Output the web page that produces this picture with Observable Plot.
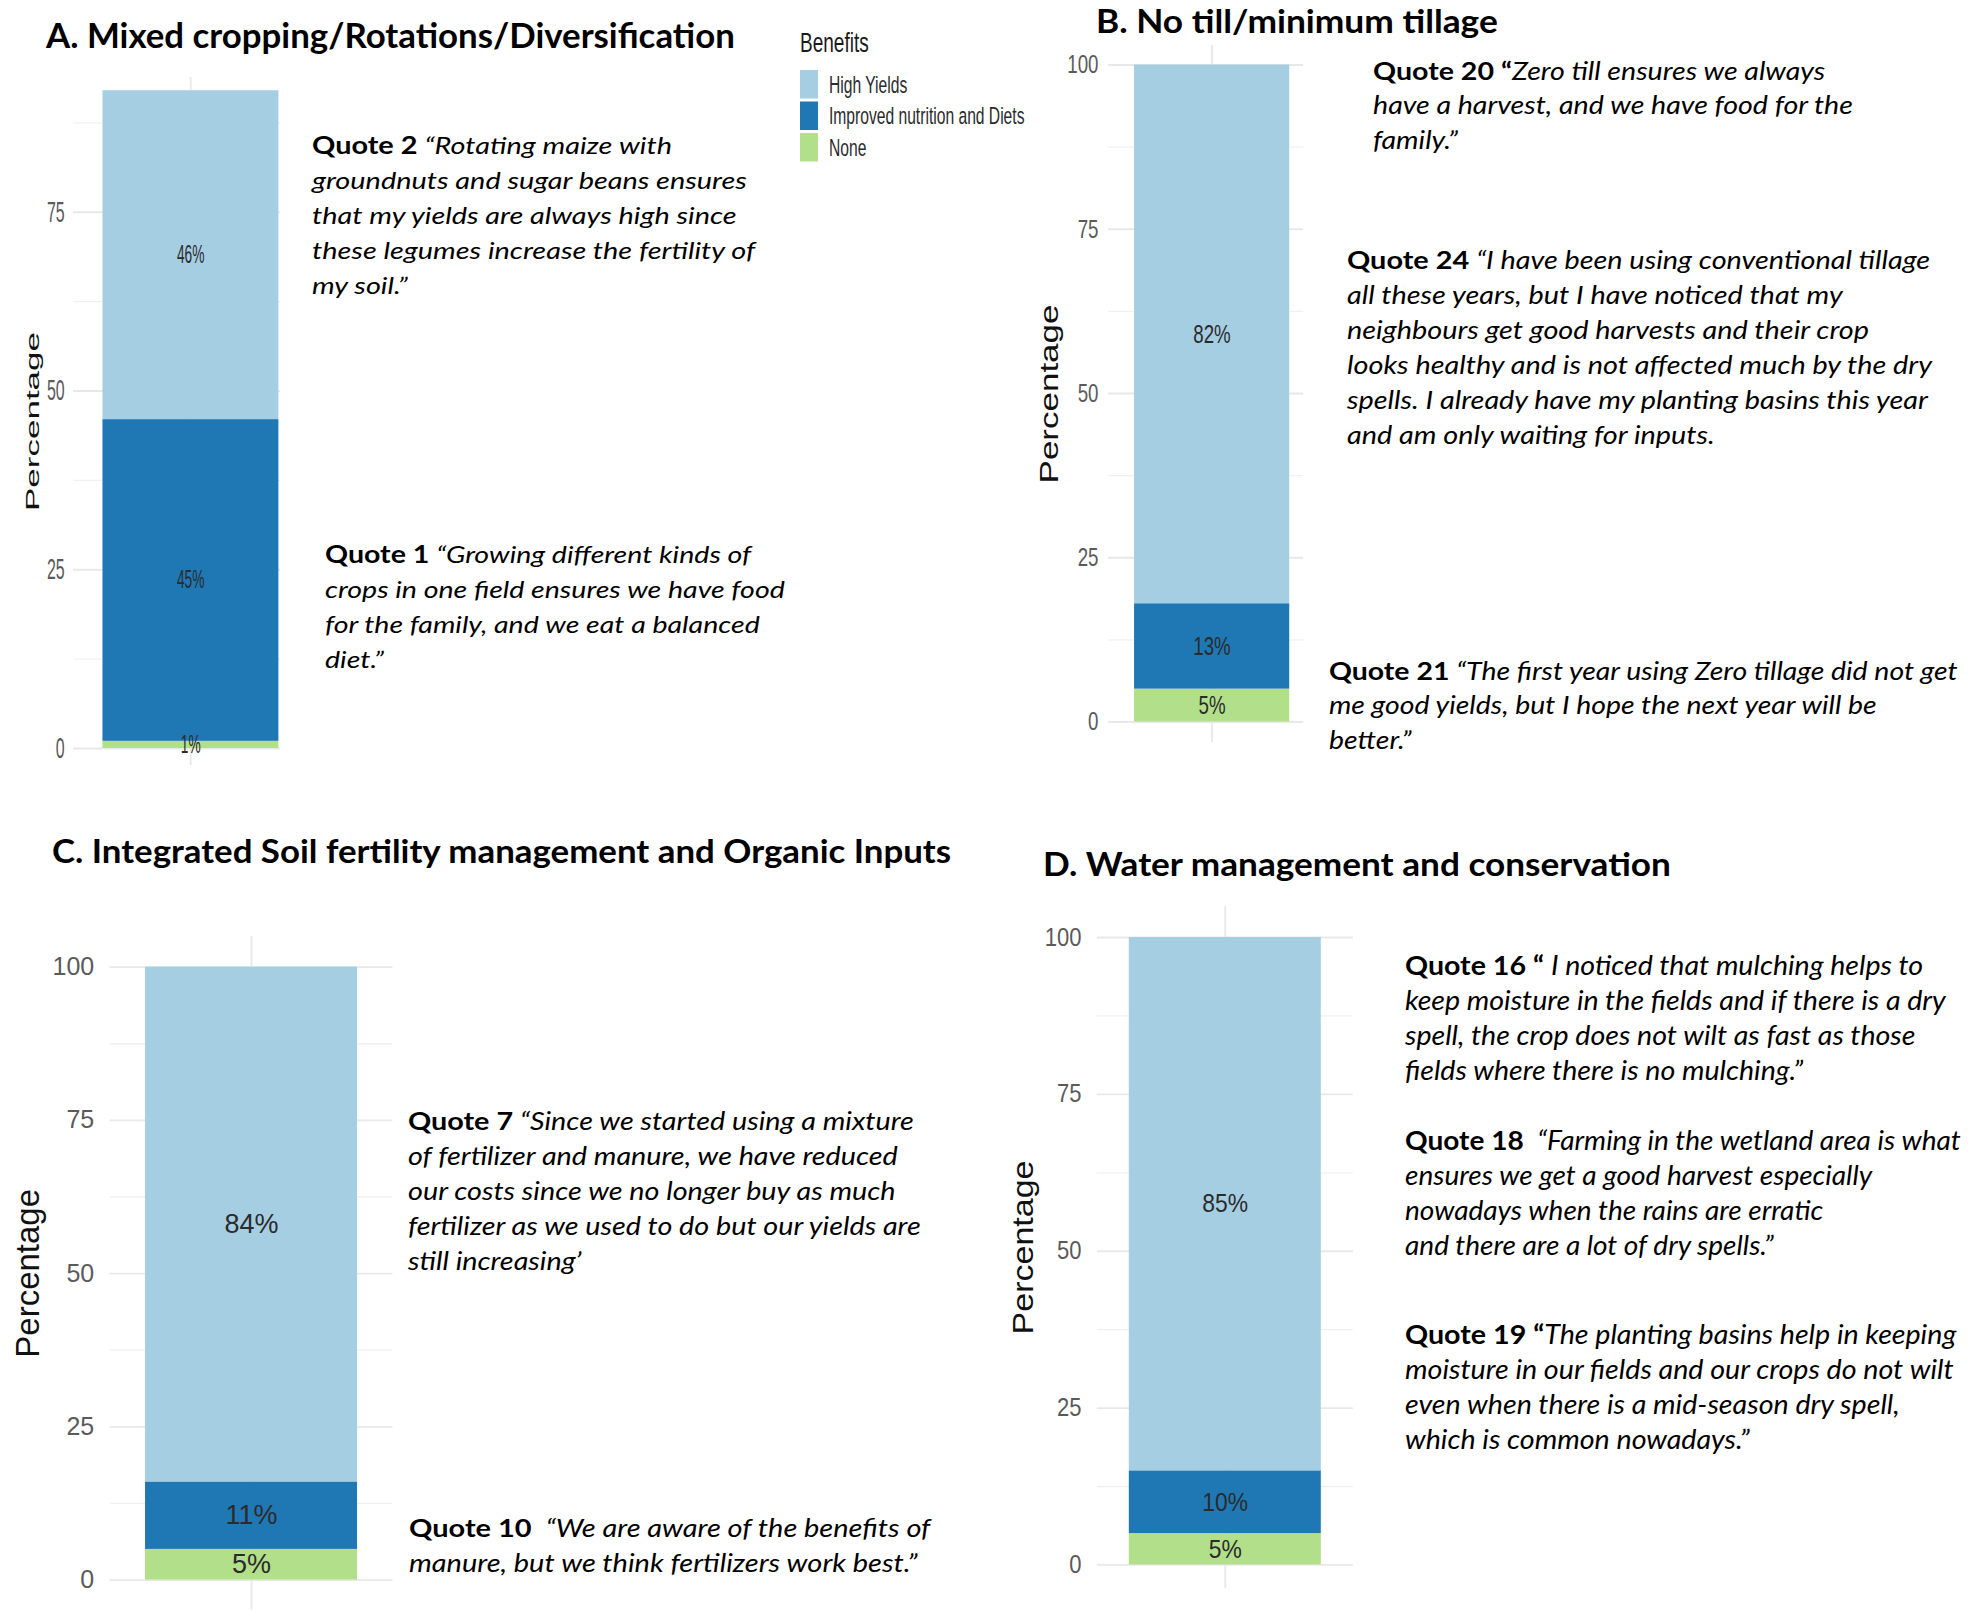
<!DOCTYPE html>
<html><head><meta charset="utf-8">
<script src="https://cdn.jsdelivr.net/npm/d3@7"></script>
<script src="https://cdn.jsdelivr.net/npm/@observablehq/plot@0.6"></script>
<style>
html,body{margin:0;padding:0;background:#fff;}
#page{position:relative;width:1971px;height:1610px;overflow:hidden;background:#fff;}
.panel{position:absolute;transform-origin:0 0;}
#overlay{position:absolute;left:0;top:0;}
</style></head><body><div id="page"></div>
<script>
// ---------- data ----------
const benefits = ["High Yields", "Improved nutrition and Diets", "None"];
const benefitColors = ["#A6CEE3", "#1F78B4", "#B2DF8A"];
const valuesA = [46, 45, 1];
const valuesB = [82, 13, 5];
const valuesC = [84, 11, 5];
const valuesD = [85, 10, 5];
const ticksA = [0, 25, 50, 75];
const ticksBCD = [0, 25, 50, 75, 100];
const minorTicks = [12.5, 37.5, 62.5, 87.5];
const yTitle = "Percentage";
const legendTitle = "Benefits";
const titles = [
  "A. Mixed cropping/Rotations/Diversification",
  "B. No till/minimum tillage",
  "C. Integrated Soil fertility management and Organic Inputs",
  "D. Water management and conservation"
];
const quoteLabels = ["Quote 2 ", "Quote 1 ", "Quote 20 “", "Quote 24 ", "Quote 21 ", "Quote 7 ", "Quote 10  ", "Quote 16 “ ", "Quote 18  ", "Quote 19 “"];
const quoteLines = [
  ["“Rotating maize with", "groundnuts and sugar beans ensures", "that my yields are always high since", "these legumes increase the fertility of", "my soil.”"],
  ["“Growing different kinds of", "crops in one field ensures we have food", "for the family, and we eat a balanced", "diet.”"],
  ["Zero till ensures we always", "have a harvest, and we have food for the", "family.”"],
  ["“I have been using conventional tillage", "all these years, but I have noticed that my", "neighbours get good harvests and their crop", "looks healthy and is not affected much by the dry", "spells. I already have my planting basins this year", "and am only waiting for inputs."],
  ["“The first year using Zero tillage did not get", "me good yields, but I hope the next year will be", "better.”"],
  ["“Since we started using a mixture", "of fertilizer and manure, we have reduced", "our costs since we no longer buy as much", "fertilizer as we used to do but our yields are", "still increasing’"],
  ["“We are aware of the benefits of", "manure, but we think fertilizers work best.”"],
  ["I noticed that mulching helps to", "keep moisture in the fields and if there is a dry", "spell, the crop does not wilt as fast as those", "fields where there is no mulching.”"],
  ["“Farming in the wetland area is what", "ensures we get a good harvest especially", "nowadays when the rains are erratic", "and there are a lot of dry spells.”"],
  ["The planting basins help in keeping", "moisture in our fields and our crops do not wilt", "even when there is a mid-season dry spell,", "which is common nowadays.”"]
];

// ---------- layout ----------
const barCenter = 1, barWidth = 0.9;
const panelLayout = [
  {values: valuesA, ticks: ticksA, left: 0, top: 77, s: 0.55, M: 133, frameW: 206.8, xd: [0.4, 1.458], yd: [-2.38, 93.85], h: 688, pad: 16, titleOff: 74, tickSize: 29, labelSize: 25, titleSize: 35},
  {values: valuesB, ticks: ticksBCD, left: 1029, top: 45, s: 0.72, M: 110, frameW: 195, xd: [0.4, 1.531], yd: [-3.12, 102.97], h: 697, pad: 14, titleOff: 81, tickSize: 26, labelSize: 26, titleSize: 35},
  {values: valuesC, ticks: ticksBCD, left: 0, top: 936.4, s: 1, M: 109.7, frameW: 282.7, xd: [0.4, 1.6], yd: [-4.9, 105], h: 673.6, pad: 16, titleOff: 81.7, tickSize: 25, labelSize: 27, titleSize: 33},
  {values: valuesD, ticks: ticksBCD, left: 1000.2, top: 906, s: 0.88, M: 110, frameW: 256, xd: [0.4, 1.6], yd: [-3.75, 104.94], h: 682, pad: 18, titleOff: 83.5, tickSize: 25, labelSize: 26, titleSize: 34}
];
const titleLayout = [
  {x: 46, y: 48.5, size: 33.5, w: 689},
  {x: 1096, y: 33.5, size: 32.5, w: 402},
  {x: 52, y: 863, size: 31.7, w: 899},
  {x: 1043, y: 876, size: 31.7, w: 628}
];
const quoteLayout = [
  {x: 312, y: 154, step: 35, size: 24, ref: 1, w: 435},
  {x: 325, y: 563, step: 35, size: 24, ref: 1, w: 460},
  {x: 1373, y: 80, step: 34.5, size: 25.5, ref: 1, w: 480},
  {x: 1347, y: 269, step: 35, size: 25.5, ref: 4, w: 581},
  {x: 1329, y: 680, step: 34.5, size: 25.5, ref: 0, w: 629},
  {x: 408, y: 1130, step: 35, size: 25, ref: 3, w: 513},
  {x: 409, y: 1537, step: 35, size: 25, ref: 1, w: 509},
  {x: 1405, y: 975, step: 35, size: 26.5, ref: 1, w: 541},
  {x: 1405, y: 1150, step: 35, size: 26.5, ref: 0, w: 556},
  {x: 1405, y: 1344, step: 35, size: 26.5, ref: 1, w: 549}
];

const page = document.getElementById("page");

// ---------- charts ----------
panelLayout.forEach(cfg => {
  const rows = benefits.map((b, i) => ({benefit: b, value: cfg.values[i]})).reverse();
  const plot = Plot.plot({
    width: cfg.M + cfg.frameW / cfg.s,
    height: cfg.h,
    marginLeft: cfg.M, marginRight: 0, marginTop: 0, marginBottom: 0,
    x: {domain: cfg.xd, axis: null},
    y: {domain: cfg.yd},
    color: {domain: benefits, range: benefitColors},
    style: {fontFamily: "'Liberation Sans', Arial, sans-serif", background: "transparent", overflow: "visible"},
    marks: [
      Plot.ruleY(minorTicks, {stroke: "#f0f0f0", strokeWidth: 1.3}),
      Plot.ruleY(cfg.ticks, {stroke: "#e8e8e8", strokeWidth: 1.8}),
      Plot.ruleX([barCenter], {stroke: "#e8e8e8", strokeWidth: 1.8 / cfg.s}),
      Plot.rectY(rows, {x1: () => barCenter - barWidth / 2, x2: () => barCenter + barWidth / 2, y: "value", fill: "benefit"}),
      Plot.text(rows, Plot.stackY({x: () => barCenter, y: "value", text: d => d.value + "%", fill: "#2b2b2b", fontSize: cfg.labelSize})),
      Plot.axisY(cfg.ticks, {tickSize: 0, tickPadding: cfg.pad, fontSize: cfg.tickSize, color: "#5a5a5a", label: null}),
      Plot.text([yTitle], {text: d => d, frameAnchor: "left", textAnchor: "middle", rotate: -90, dx: -cfg.titleOff, fontSize: cfg.titleSize, fill: "#111"})
    ]
  });
  const div = document.createElement("div");
  div.className = "panel";
  div.style.left = cfg.left + "px";
  div.style.top = cfg.top + "px";
  div.style.transform = `scaleX(${cfg.s})`;
  div.appendChild(plot);
  page.appendChild(div);
});

// ---------- overlay text ----------
const svg = d3.select(page).append("svg").attr("id", "overlay").attr("width", 1971).attr("height", 1610);
function fit(g, textNode, x0, w) {
  const len = textNode.getComputedTextLength();
  const k = w / len;
  g.attr("transform", `translate(${x0},0) scale(${k},1) translate(${-x0},0)`);
}
titleLayout.forEach((t, i) => {
  const g = svg.append("g");
  const txt = g.append("text").attr("x", t.x).attr("y", t.y)
    .attr("font-family", "Lato, 'Open Sans', sans-serif").attr("font-weight", 700)
    .attr("font-size", t.size).attr("fill", "#000").text(titles[i]);
  fit(g, txt.node(), t.x, t.w);
});
quoteLayout.forEach((q, i) => {
  const g = svg.append("g").attr("font-family", "Lato, 'Open Sans', sans-serif").attr("font-size", q.size).attr("fill", "#000");
  const nodes = quoteLines[i].map((line, j) => {
    const t = g.append("text").attr("x", q.x).attr("y", q.y + j * q.step).attr("xml:space", "preserve");
    if (j === 0) t.append("tspan").attr("font-weight", 700).text(quoteLabels[i]);
    t.append("tspan").attr("font-style", "italic").text(line);
    return t.node();
  });
  fit(g, nodes[q.ref], q.x, q.w);
});

// ---------- legend (panel A) ----------
const lg = svg.append("g").attr("font-family", "'Liberation Sans', Arial, sans-serif");
lg.append("text").attr("transform", "translate(800,52) scale(0.68,1)").attr("font-size", 28).attr("fill", "#1a1a1a").text(legendTitle);
benefits.forEach((b, i) => {
  const y0 = 70 + i * 31.5;
  lg.append("rect").attr("x", 800).attr("y", y0).attr("width", 18).attr("height", 28.5).attr("fill", benefitColors[i]);
  lg.append("text").attr("transform", `translate(829,${y0 + 14.2 + 8.3}) scale(0.66,1)`).attr("font-size", 23.7).attr("fill", "#2b2b2b").text(b);
});
</script>
</body></html>
